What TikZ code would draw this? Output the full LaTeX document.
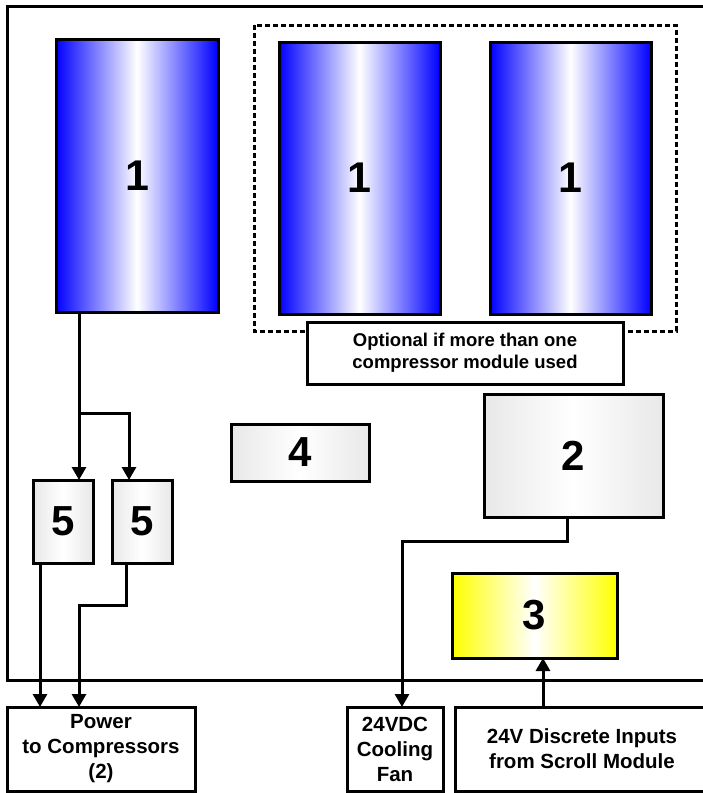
\documentclass[tikz,border=0pt]{standalone}
\usepackage{fontspec}
\setmainfont{Liberation Sans}
\usetikzlibrary{arrows.meta,calc}
\begin{document}
\begin{tikzpicture}[x=1pt,y=-1pt,
  box/.style={draw=black,line width=3pt,inner sep=0pt,outer sep=0pt},
  comp/.style={box,left color=blue,right color=blue,middle color=white,
    font=\fontsize{43}{43}\selectfont\bfseries},
  grey/.style={box,left color=gray!18,right color=gray!18,middle color=white,
    font=\fontsize{42}{42}\selectfont\bfseries},
  yel/.style={box,left color=yellow,right color=yellow,middle color=white,
    font=\fontsize{42}{42}\selectfont\bfseries},
  lbl/.style={box,fill=white,align=center,
    font=\fontsize{20.5}{25}\selectfont\bfseries},
  arr/.style={line width=3pt,-{Triangle[width=14pt,length=13pt]}}]
\useasboundingbox (0,0) rectangle (702,793);
% outer frame
\draw[line width=3pt] (712,6) -- (7,6) -- (7,680) -- (712,680);
% optional group
\draw[line width=3pt,dash pattern=on 5pt off 3pt] (254,25) rectangle (676,331);
% compressors
\node[comp,minimum width=162pt,minimum height=273pt] (c1) at (137,175.5) {1};
\node[comp,minimum width=161pt,minimum height=272pt] (c2) at (359.5,178) {1};
\node[comp,minimum width=161pt,minimum height=272pt] (c3) at (570.5,178) {1};
\node[lbl,minimum width=316pt,minimum height=62pt,
  font=\fontsize{18.5}{21.7}\selectfont\bfseries] (opt) at (465,353)
  {Optional if more than one\\compressor module used};
% modules
\node[grey,minimum width=138pt,minimum height=57pt] (b4) at (300,452.5) {4};
\node[grey,minimum width=179pt,minimum height=123pt] (b2) at (573.5,455.5) {2};
\node[yel,minimum width=165pt,minimum height=85pt] (b3) at (534.5,615.5) {3};
\node[grey,minimum width=60pt,minimum height=83pt] (b5a) at (63,521.5) {5};
\node[grey,minimum width=60pt,minimum height=83pt] (b5b) at (142,521.5) {5};
% external boxes
\node[lbl,minimum width=188pt,minimum height=84pt] (power) at (101,749)
  {Power\\to Compressors\\(2)};
\node[lbl,minimum width=96pt,minimum height=84pt] (fan) at (395,749)
  {24VDC\\Cooling\\Fan};
\node[lbl,minimum width=254pt,minimum height=84pt] (disc) at (582,749)
  {24V Discrete Inputs\\from Scroll Module};
% connectors
\coordinate (a1) at ($(b5a.north)+(16,0)$);
\coordinate (a2) at ($(b5b.north)+(-13,0)$);
\coordinate (jn) at ($(a1)+(0,-67)$);
\draw[arr] (a1 |- c1.south) -- (a1);
\draw[arr] (jn) -| (a2);
\coordinate (p1) at ($(b5a.south)+(-23,0)$);
\draw[arr] (p1) -- (p1 |- power.north);
\coordinate (q1) at ($(b5b.south)+(-16,0)$);
\coordinate (q2) at ($(power.north)+(-22,0)$);
\draw[arr] (q1) -- ++(0,42) -| (q2);
\draw[arr] ($(b2.south)+(-6.5,0)$) -- ++(0,24) -| ($(fan.north)+(7,0)$);
\coordinate (d1) at ($(b3.south)+(8.5,0)$);
\draw[arr] (d1 |- disc.north) -- (d1);
\end{tikzpicture}
\end{document}
